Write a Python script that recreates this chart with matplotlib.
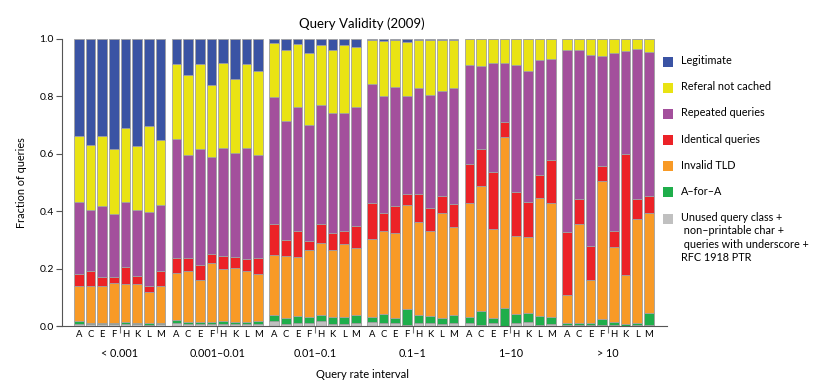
import matplotlib
matplotlib.use('Agg')
import matplotlib.pyplot as plt
from matplotlib.patches import Rectangle
import numpy as np

plt.rcParams['font.family'] = ['Lato', 'DejaVu Sans']

# root servers (bar labels) and query rate groups
servers = ['A', 'C', 'E', 'F', 'H', 'K', 'L', 'M']
groups = ['< 0.001', '0.001\u20130.01', '0.01\u20130.1', '0.1\u20131', '1\u201310', '> 10']

# fraction of queries per class, 6 groups x 8 servers
unused = [
    [.008, .006, .006, .006, .008, .006, .004, .006],
    [.010, .006, .006, .006, .008, .006, .006, .006],
    [.016, .008, .010, .010, .016, .008, .006, .012],
    [.014, .010, .010, .003, .012, .010, .006, .012],
    [.010, .005, .010, .000, .012, .015, .002, .008],
    [.002, .002, .002, .002, .002, .001, .002, .002],
]
a_for_a = [
    [.008, .006, .006, .006, .006, .006, .008, .006],
    [.011, .008, .008, .008, .008, .009, .009, .010],
    [.022, .020, .026, .021, .022, .025, .024, .026],
    [.017, .032, .018, .056, .026, .026, .022, .026],
    [.022, .047, .018, .062, .030, .032, .034, .023],
    [.007, .010, .010, .022, .013, .007, .010, .042],
]
invalid_tld = [
    [.122, .129, .129, .137, .131, .136, .105, .126],
    [.165, .177, .148, .206, .182, .186, .175, .164],
    [.211, .216, .204, .235, .251, .233, .256, .235],
    [.272, .290, .297, .362, .325, .296, .364, .308],
    [.395, .436, .311, .595, .273, .264, .410, .398],
    [.100, .345, .148, .481, .262, .168, .362, .351],
]
identical = [
    [.042, .052, .029, .021, .059, .027, .021, .055],
    [.052, .047, .052, .032, .047, .041, .043, .056],
    [.106, .056, .092, .031, .066, .059, .045, .075],
    [.126, .063, .093, .040, .097, .079, .062, .078],
    [.138, .130, .198, .054, .153, .122, .081, .150],
    [.220, .086, .120, .051, .055, .424, .069, .059],
]
repeated = [
    [.253, .212, .247, .219, .229, .228, .258, .228],
    [.415, .358, .404, .338, .375, .362, .387, .361],
    [.442, .414, .431, .403, .415, .417, .411, .415],
    [.414, .407, .414, .341, .368, .393, .364, .406],
    [.346, .288, .378, .204, .441, .455, .400, .350],
    [.633, .519, .664, .385, .618, .358, .522, .501],
]
referal = [
    [.228, .226, .245, .227, .256, .224, .300, .228],
    [.261, .277, .295, .251, .298, .256, .294, .292],
    [.188, .248, .220, .250, .210, .221, .238, .210],
    [.154, .191, .164, .188, .167, .191, .178, .166],
    [.089, .094, .085, .085, .091, .112, .073, .071],
    [.038, .038, .056, .059, .050, .042, .035, .045],
]
legitimate = [
    [.339, .369, .338, .384, .311, .373, .304, .351],
    [.086, .127, .087, .159, .082, .140, .086, .111],
    [.015, .038, .017, .050, .020, .037, .020, .027],
    [.003, .007, .004, .010, .005, .005, .004, .004],
    [.000, .000, .000, .000, .000, .000, .000, .000],
    [.000, .000, .000, .000, .000, .000, .000, .000],
]

# bottom to top
series = [
    ('Unused query class +\n non\u2013printable char +\n queries with underscore +\nRFC 1918 PTR', unused, '#c0c0c0'),
    ('A\u2013for\u2013A', a_for_a, '#1fae4b'),
    ('Invalid TLD', invalid_tld, '#f89a26'),
    ('Identical queries', identical, '#ec2227'),
    ('Repeated queries', repeated, '#a34f9c'),
    ('Referal not cached', referal, '#e9e313'),
    ('Legitimate', legitimate, '#3a53a4'),
]

fig = plt.figure(figsize=(8.39, 3.92), dpi=100)
ax = fig.add_axes([57 / 839, 1 - 326 / 392, (667 - 57) / 839, (326 - 39) / 392])

step = 8.37   # group spacing in bar units
width = 0.82
x = np.array([g * step + i + width / 2 for g in range(len(groups)) for i in range(len(servers))])

bottom = np.zeros(len(x))
for name, vals, col in series:
    v = np.array(vals).ravel()
    ax.bar(x, v, width, bottom=bottom, color=col, edgecolor='#a0a0a0', linewidth=0.6)
    bottom += v

ax.set_xlim(-17 / 11.67, (667 - 74) / 11.67)
ax.set_ylim(0, 1)
ax.spines['top'].set_visible(False)
ax.spines['right'].set_visible(False)
ax.spines['left'].set_bounds(0, 1)
ax.spines['left'].set_color('#555555')
ax.spines['bottom'].set_color('#555555')
ax.spines['left'].set_linewidth(0.8)
ax.spines['bottom'].set_linewidth(0.8)
ax.spines['left'].set_position(('data', -12 / 11.67))

ax.set_yticks([0, 0.2, 0.4, 0.6, 0.8, 1.0], ['0.0', '0.2', '0.4', '0.6', '0.8', '1.0'])
ax.tick_params(axis='y', length=4, width=0.8, color='#555555', labelsize=7.5, pad=2)

ax.set_xticks(x, servers * len(groups), minor=True)
centers = [g * step + 3.5 + width / 2 for g in range(len(groups))]
ax.set_xticks(centers, groups)
ax.tick_params(axis='x', which='minor', length=0, labelsize=6.8, pad=3)
ax.tick_params(axis='x', which='major', length=5, width=0.8, color='#777777', labelsize=7.8, pad=11)

ax.set_xlabel('Query rate interval', fontsize=8, labelpad=7)
ax.set_ylabel('Fraction of queries', fontsize=7.8, labelpad=9)
ax.set_title('Query Validity (2009)', fontsize=9.5, pad=8)

# legend drawn by hand (top entry first)
ly = 61.5
for name, vals, col in series[::-1]:
    fig.patches.append(Rectangle((663 / 839, 1 - (ly + 5) / 392), 10 / 839, 10 / 392,
                                 transform=fig.transFigure, facecolor=col, edgecolor='none'))
    fig.text(681 / 839, 1 - (ly - 6.5) / 392, name, fontsize=7.8, va='top', ha='left',
             linespacing=1.25)
    ly += 26.2

fig.savefig('out.png', dpi=100)
